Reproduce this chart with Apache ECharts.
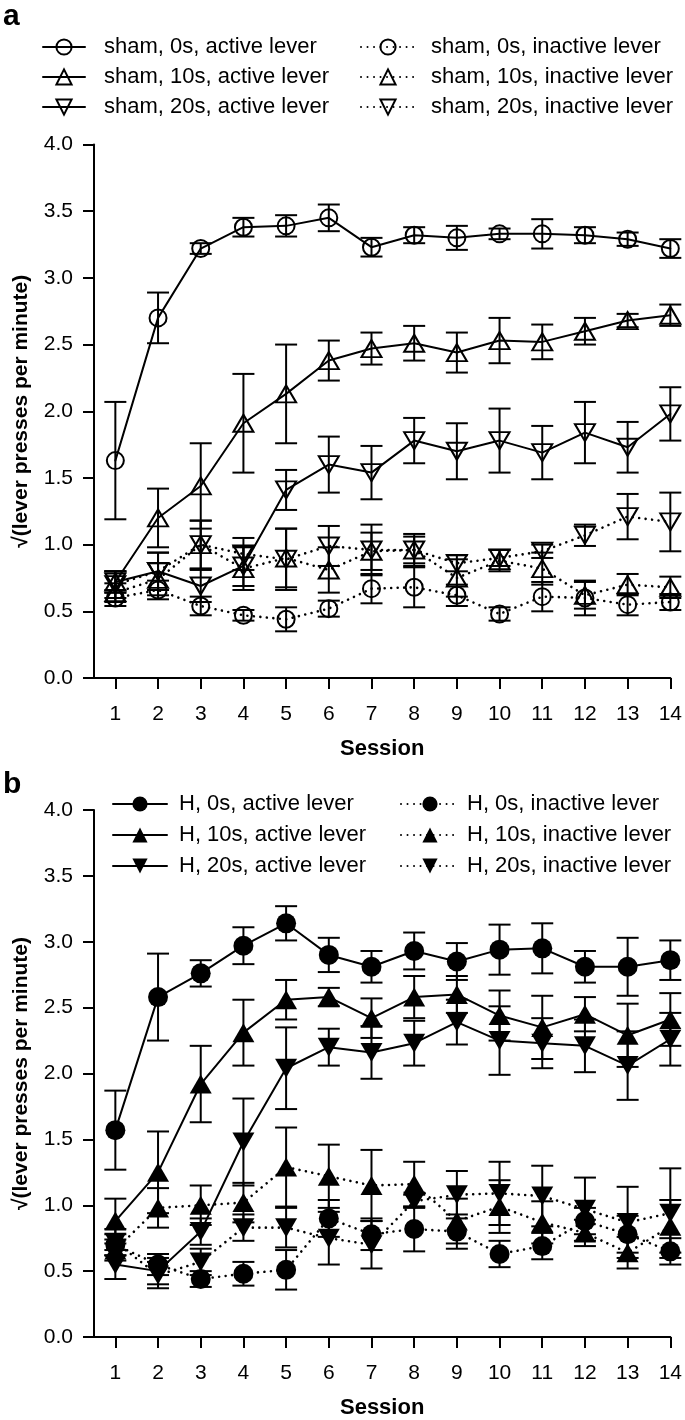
<!DOCTYPE html>
<html><head><meta charset="utf-8">
<script src="https://cdn.jsdelivr.net/npm/echarts@6/dist/echarts.min.js"></script>
<style>html,body{margin:0;padding:0;background:#fff}#c{width:685px;height:1420px}</style>
</head><body><div id="c"></div>
<script>
// ---------- data ----------
const sessions = [1,2,3,4,5,6,7,8,9,10,11,12,13,14];
const yTicks = [0,0.5,1,1.5,2,2.5,3,3.5,4];

// Panel a: sham
const sham0Active   = [1.63,2.70,3.22,3.38,3.39,3.45,3.23,3.32,3.30,3.33,3.33,3.32,3.29,3.22];
const sham0ActiveE  = [0.44,0.19,0.04,0.07,0.08,0.10,0.07,0.06,0.09,0.04,0.11,0.06,0.05,0.07];
const sham10Active  = [0.72,1.20,1.44,1.91,2.13,2.38,2.47,2.51,2.44,2.53,2.52,2.60,2.68,2.72];
const sham10ActiveE = [0.08,0.22,0.32,0.37,0.37,0.15,0.12,0.13,0.15,0.17,0.13,0.10,0.05,0.08];
const sham20Active  = [0.72,0.80,0.69,0.84,1.41,1.60,1.54,1.78,1.70,1.78,1.69,1.84,1.73,1.98];
const sham20ActiveE = [0.08,0.14,0.12,0.15,0.15,0.21,0.20,0.17,0.21,0.24,0.20,0.23,0.19,0.20];
const sham0Inact    = [0.60,0.66,0.54,0.47,0.44,0.52,0.67,0.68,0.62,0.48,0.61,0.60,0.55,0.57];
const sham0InactE   = [0.06,0.07,0.07,0.04,0.09,0.06,0.11,0.15,0.08,0.05,0.11,0.13,0.08,0.06];
const sham10Inact   = [0.64,0.74,1.00,0.82,0.90,0.81,0.95,0.96,0.75,0.88,0.82,0.62,0.70,0.68];
const sham10InactE  = [0.07,0.12,0.18,0.16,0.22,0.17,0.14,0.12,0.14,0.08,0.12,0.10,0.08,0.08];
const sham20Inact   = [0.70,0.80,1.00,0.93,0.89,0.99,0.96,0.96,0.86,0.90,0.95,1.07,1.21,1.17];
const sham20InactE  = [0.10,0.14,0.18,0.12,0.23,0.15,0.19,0.10,0.06,0.06,0.05,0.08,0.17,0.22];

// Panel b: H
const h0Active   = [1.57,2.58,2.76,2.97,3.14,2.90,2.81,2.93,2.85,2.94,2.95,2.81,2.81,2.86];
const h0ActiveE  = [0.30,0.33,0.10,0.14,0.13,0.13,0.12,0.14,0.14,0.19,0.19,0.12,0.22,0.15];
const h10Active  = [0.88,1.25,1.92,2.31,2.56,2.58,2.42,2.58,2.60,2.44,2.35,2.45,2.29,2.41];
const h10ActiveE = [0.17,0.31,0.29,0.25,0.15,0.07,0.15,0.16,0.14,0.19,0.24,0.13,0.24,0.20];
const h20Active  = [0.55,0.50,0.80,1.48,2.04,2.20,2.16,2.23,2.39,2.25,2.23,2.21,2.06,2.26];
const h20ActiveE = [0.11,0.10,0.10,0.33,0.31,0.14,0.20,0.17,0.17,0.26,0.19,0.20,0.26,0.20];
const h0Inact    = [0.70,0.55,0.44,0.48,0.51,0.90,0.78,0.82,0.80,0.63,0.69,0.88,0.78,0.65];
const h0InactE   = [0.08,0.08,0.06,0.09,0.15,0.14,0.12,0.17,0.13,0.10,0.10,0.10,0.14,0.10];
const h10Inact   = [0.66,0.98,1.00,1.02,1.29,1.22,1.15,1.16,0.88,0.99,0.87,0.79,0.64,0.84];
const h10InactE  = [0.08,0.15,0.15,0.15,0.30,0.24,0.27,0.17,0.17,0.20,0.16,0.10,0.12,0.20];
const h20Inact   = [0.72,0.47,0.57,0.83,0.83,0.75,0.70,1.03,1.08,1.09,1.07,0.97,0.87,0.94];
const h20InactE  = [0.10,0.10,0.10,0.10,0.15,0.20,0.18,0.05,0.18,0.24,0.23,0.24,0.27,0.34];

// ---------- styling ----------
const FONT = '"Liberation Sans", Arial, Helvetica, sans-serif';
const BLACK = '#000';
const DOT = [0.01, 6.5];

function lineSeries(name, vals, g, shape, filled, dotted) {
  const isTri = shape !== 'circle';
  const size = filled ? (isTri ? [22, 19] : 20) : (isTri ? [20, 17] : 17);
  return {
    type: 'line', name: name, xAxisIndex: g, yAxisIndex: g,
    data: sessions.map((s, i) => [s, vals[i]]),
    symbol: isTri ? 'triangle' : 'circle',
    symbolRotate: shape === 'down' ? 180 : 0,
    symbolSize: size,
    showAllSymbol: true,
    lineStyle: { color: BLACK, width: dotted ? 2.6 : 2, type: dotted ? DOT : 'solid', cap: 'round' },
    itemStyle: { color: filled ? BLACK : 'rgba(0,0,0,0)', borderColor: BLACK, borderWidth: filled ? 0 : 2 },
    emphasis: { disabled: true },
    animation: false, z: 3
  };
}
function errSeries(vals, errs, g) {
  return {
    type: 'custom', xAxisIndex: g, yAxisIndex: g, silent: true, animation: false, z: 2,
    data: sessions.map((s, i) => [s, vals[i] - errs[i], vals[i] + errs[i]]),
    encode: { x: 0, y: [1, 2] },
    renderItem: function (params, api) {
      const x = api.value(0);
      const lo = api.coord([x, api.value(1)]);
      const hi = api.coord([x, api.value(2)]);
      const hw = 11, st = { stroke: BLACK, lineWidth: 2 };
      return { type: 'group', children: [
        { type: 'line', shape: { x1: lo[0], y1: lo[1], x2: hi[0], y2: hi[1] }, style: st },
        { type: 'line', shape: { x1: lo[0] - hw, y1: lo[1], x2: lo[0] + hw, y2: lo[1] }, style: st },
        { type: 'line', shape: { x1: hi[0] - hw, y1: hi[1], x2: hi[0] + hw, y2: hi[1] }, style: st }
      ]};
    }
  };
}
function xAx(g) {
  return {
    type: 'value', gridIndex: g, min: 0.5, max: 14,
    name: 'Session', nameLocation: 'middle', nameGap: 60,
    nameTextStyle: { fontFamily: FONT, fontSize: 22, fontWeight: 'bold', color: BLACK },
    axisLine: { show: true, lineStyle: { color: BLACK, width: 2 } },
    axisTick: { show: true, length: 11, lineStyle: { color: BLACK, width: 2 }, customValues: sessions },
    axisLabel: { show: true, fontFamily: FONT, fontSize: 21, color: BLACK, margin: 26, customValues: sessions },
    splitLine: { show: false }
  };
}
function yAx(g) {
  return {
    type: 'value', gridIndex: g, min: 0, max: 4, interval: 0.5,
    name: '\u221A(lever presses per minute)', nameLocation: 'middle', nameGap: 62, nameRotate: 90,
    nameTextStyle: { fontFamily: FONT, fontSize: 21, fontWeight: 'bold', color: BLACK },
    axisLine: { show: true, lineStyle: { color: BLACK, width: 2 } },
    axisTick: { show: true, length: 11, lineStyle: { color: BLACK, width: 2 } },
    axisLabel: { fontFamily: FONT, fontSize: 21, color: BLACK, margin: 21, formatter: v => v.toFixed(1) },
    splitLine: { show: false }
  };
}
function legend(names, left, top, w, pad, gap) {
  return {
    orient: 'vertical', left: left, top: top, padding: 0, itemWidth: w, itemHeight: 19, itemGap: gap,
    selectedMode: false, data: names,
    textStyle: { fontFamily: FONT, fontSize: 22, color: BLACK, lineHeight: 22, padding: [0, 0, 0, pad] }
  };
}

const aNames = ['sham, 0s, active lever','sham, 10s, active lever','sham, 20s, active lever',
                'sham, 0s, inactive lever','sham, 10s, inactive lever','sham, 20s, inactive lever'];
const bNames = ['H, 0s, active lever','H, 10s, active lever','H, 20s, active lever',
                'H, 0s, inactive lever','H, 10s, inactive lever','H, 20s, inactive lever'];

const series = [
  errSeries(sham0Active, sham0ActiveE, 0), errSeries(sham10Active, sham10ActiveE, 0), errSeries(sham20Active, sham20ActiveE, 0),
  errSeries(sham0Inact, sham0InactE, 0), errSeries(sham10Inact, sham10InactE, 0), errSeries(sham20Inact, sham20InactE, 0),
  lineSeries(aNames[0], sham0Active, 0, 'circle', false, false),
  lineSeries(aNames[1], sham10Active, 0, 'up', false, false),
  lineSeries(aNames[2], sham20Active, 0, 'down', false, false),
  lineSeries(aNames[3], sham0Inact, 0, 'circle', false, true),
  lineSeries(aNames[4], sham10Inact, 0, 'up', false, true),
  lineSeries(aNames[5], sham20Inact, 0, 'down', false, true),
  errSeries(h0Active, h0ActiveE, 1), errSeries(h10Active, h10ActiveE, 1), errSeries(h20Active, h20ActiveE, 1),
  errSeries(h0Inact, h0InactE, 1), errSeries(h10Inact, h10InactE, 1), errSeries(h20Inact, h20InactE, 1),
  lineSeries(bNames[0], h0Active, 1, 'circle', true, false),
  lineSeries(bNames[1], h10Active, 1, 'up', true, false),
  lineSeries(bNames[2], h20Active, 1, 'down', true, false),
  lineSeries(bNames[3], h0Inact, 1, 'circle', true, true),
  lineSeries(bNames[4], h10Inact, 1, 'up', true, true),
  lineSeries(bNames[5], h20Inact, 1, 'down', true, true)
];

const chart = echarts.init(document.getElementById('c'), null, { renderer: 'canvas' });
chart.setOption({
  backgroundColor: '#fff',
  animation: false,
  grid: [
    { left: 94, top: 144.5, width: 576.5, height: 533.5 },
    { left: 94, top: 810, width: 576.5, height: 534 }
  ],
  xAxis: [xAx(0), xAx(1)],
  yAxis: [yAx(0), yAx(1)],
  legend: [
    legend(aNames.slice(0,3), 42, 36, 42, 14, 8),
    legend(aNames.slice(3), 360, 36, 54, 11, 8),
    legend(bNames.slice(0,3), 112, 793, 54, 7, 9),
    legend(bNames.slice(3), 400, 793, 58, 3, 9)
  ],
  graphic: [
    { type: 'text', left: 3, top: 2, style: { text: 'a', font: 'bold 30px ' + FONT, fill: BLACK } },
    { type: 'text', left: 3, top: 770, style: { text: 'b', font: 'bold 30px ' + FONT, fill: BLACK } }
  ],
  series: series
});
</script>
</body></html>
